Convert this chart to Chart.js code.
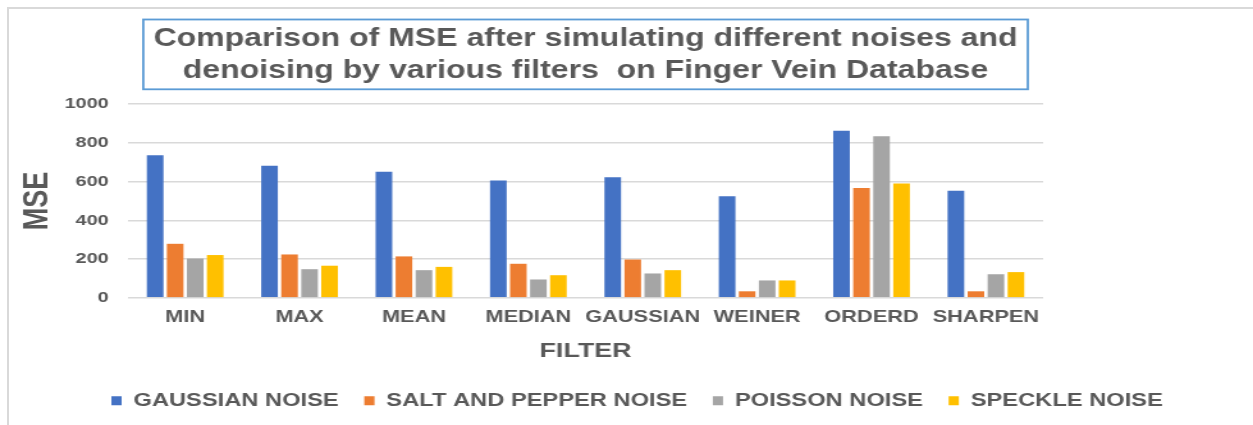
<!DOCTYPE html>
<html>
<head>
<meta charset="utf-8">
<script src="https://cdn.jsdelivr.net/npm/chart.js@4.4.1/dist/chart.umd.min.js"></script>
<style>
  html, body { margin: 0; padding: 0; background: #ffffff; }
  body { width: 1253px; height: 425px; position: relative; overflow: hidden; }
  #frame { position: absolute; left: 7px; top: 7px; right: -10px; bottom: -10px;
           border-top: 2px solid #d9d9d9; border-left: 2px solid #d9d9d9; }
  #wrap { position: absolute; left: 0; top: 0; width: 979px; height: 425px;
          transform: scaleX(1.2799); transform-origin: 0 0; }
</style>
</head>
<body>
<div id="frame"></div>
<div id="wrap"><canvas id="c"></canvas></div>
<script>
const categories = ['MIN', 'MAX', 'MEAN', 'MEDIAN', 'GAUSSIAN', 'WEINER', 'ORDERD', 'SHARPEN'];
const seriesNames = ['GAUSSIAN NOISE', 'SALT AND PEPPER NOISE', 'POISSON NOISE', 'SPECKLE NOISE'];
const gaussianNoise = [736, 681, 650, 605, 622, 524, 862, 552];
const saltPepperNoise = [279, 224, 214, 176, 198, 34, 567, 34];
const poissonNoise = [203, 148, 143, 95, 126, 90, 834, 122];
const speckleNoise = [221, 166, 160, 117, 143, 90, 590, 133];
const yTicks = [0, 200, 400, 600, 800, 1000];
const titleLines = ['Comparison of MSE after simulating different noises and', 'denoising by various filters  on Finger Vein Database'];

const colors = ['#4472C4', '#ED7D31', '#A5A5A5', '#FFC000'];
const textColor = '#595959';
const FONT = '"Liberation Sans", Arial, sans-serif';

const titleBox = {
  id: 'titleBox',
  afterDraw(chart) {
    const tb = chart.titleBlock;
    if (!tb) return;
    const ctx = chart.ctx;
    const opts = chart.options.plugins.title;
    ctx.save();
    ctx.font = `bold ${opts.font.size}px ${FONT}`;
    let w = 0;
    titleLines.forEach(l => { w = Math.max(w, ctx.measureText(l).width); });
    const cx = (tb.left + tb.right) / 2;
    const top = tb.top + opts.padding.top - 3.5;
    const bottom = tb.bottom - opts.padding.bottom + 2.3;
    ctx.strokeStyle = '#5B9BD5';
    ctx.lineWidth = 1.8;
    ctx.strokeRect(cx - w / 2 - 8, top, w + 16, bottom - top);
    ctx.restore();
  }
};

new Chart(document.getElementById('c'), {
  type: 'bar',
  data: {
    labels: categories,
    datasets: [
      { label: seriesNames[0], data: gaussianNoise, backgroundColor: colors[0] },
      { label: seriesNames[1], data: saltPepperNoise, backgroundColor: colors[1] },
      { label: seriesNames[2], data: poissonNoise, backgroundColor: colors[2] },
      { label: seriesNames[3], data: speckleNoise, backgroundColor: colors[3] }
    ]
  },
  options: {
    responsive: true,
    maintainAspectRatio: false,
    animation: false,
    datasets: { bar: { barPercentage: 0.83, categoryPercentage: 0.70 } },
    layout: { padding: { left: 16.5, right: 0, top: 0, bottom: 5 } },
    plugins: {
      title: {
        display: true,
        fullSize: false,
        text: titleLines,
        color: textColor,
        font: { family: FONT, size: 25, weight: 'bold', lineHeight: 1.28 },
        padding: { top: 23, bottom: 17 }
      },
      legend: {
        position: 'bottom',
        labels: {
          color: textColor,
          font: { family: FONT, size: 18.5, weight: 'bold' },
          boxWidth: 8,
          boxHeight: 9,
          padding: 20
        }
      },
      tooltip: { enabled: false }
    },
    scales: {
      x: {
        grid: { display: false, drawTicks: false },
        border: { display: false },
        ticks: { color: textColor, font: { family: FONT, size: 17, weight: 'bold' }, padding: 9, maxRotation: 0, autoSkip: false },
        title: { display: true, text: 'FILTER', color: textColor,
                 font: { family: FONT, size: 21, weight: 'bold', lineHeight: 1.2 }, padding: { top: 2, bottom: 8 } }
      },
      y: {
        min: 0, max: 1000,
        afterBuildTicks(scale) { scale.ticks = yTicks.map(v => ({ value: v })); },
        grid: { color: '#d9d9d9', lineWidth: 1.6, drawTicks: false },
        border: { display: false },
        ticks: { color: textColor, font: { family: FONT, size: 15.5, weight: 'bold' }, padding: 15,
                 callback: v => String(v) },
        title: { display: true, text: 'MSE', color: textColor,
                 font: { family: FONT, size: 27, weight: 'bold', lineHeight: 1.0 }, padding: { top: 0, bottom: -8 } }
      },
      ySpacer: {
        position: 'right',
        display: true,
        grid: { display: false, drawTicks: false },
        border: { display: false },
        ticks: { display: false },
        afterFit(scale) { scale.width = 164; }
      }
    }
  },
  plugins: [titleBox]
});
</script>
</body>
</html>
